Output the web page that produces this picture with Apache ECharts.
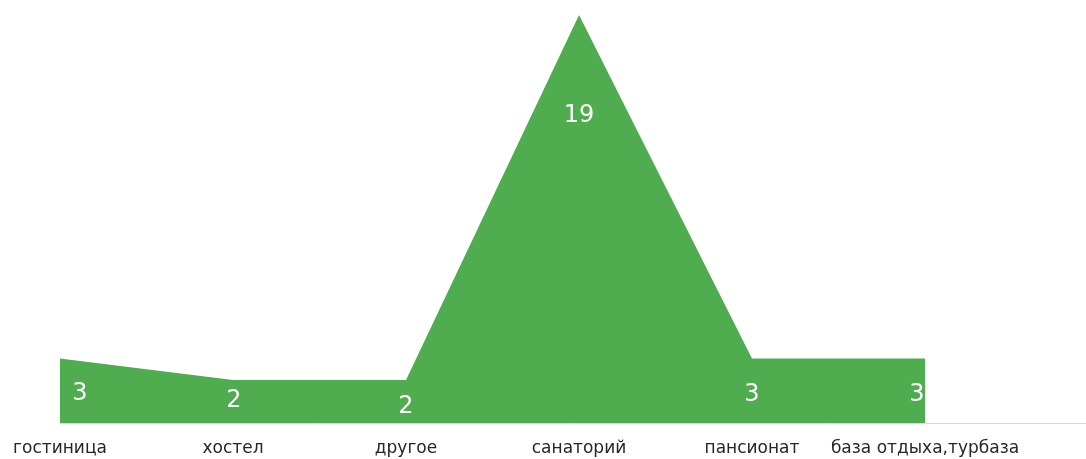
<!DOCTYPE html>
<html>
<head>
<meta charset="utf-8">
<script src="https://cdn.jsdelivr.net/npm/echarts@6/dist/echarts.min.js"></script>
<style>
  html, body { margin: 0; padding: 0; background: #fff; }
  #chart { width: 1086px; height: 459px; }
</style>
</head>
<body>
<div id="chart"></div>
<script>
  // data
  var categories = ['гостиница', 'хостел', 'другое', 'санаторий', 'пансионат', 'база отдыха,турбаза'];
  var counts = [3, 2, 2, 19, 3, 3];

  // where each white value label sits relative to its point
  var labelOffsets = [[20, 35], [1, 21], [0, 27], [0, 101], [0, 36], [-8, 36]];

  var font = "'DejaVu Sans', Verdana, sans-serif";

  var chart = echarts.init(document.getElementById('chart'));
  chart.setOption({
    animation: false,
    grid: {
      left: 60,
      width: 1038,
      top: 15,
      bottom: 36,
      outerBoundsMode: 'none'
    },
    xAxis: {
      type: 'category',
      data: categories.concat(['']),
      boundaryGap: false,
      axisLine: { lineStyle: { color: '#d9d9d9', width: 1 } },
      axisTick: { show: false },
      axisLabel: {
        interval: 0,
        color: '#262626',
        fontFamily: font,
        fontSize: 17,
        margin: 17
      }
    },
    yAxis: {
      type: 'value',
      min: 0,
      max: 19,
      show: false
    },
    series: [{
      type: 'line',
      data: counts.map(function (v, i) {
        return { value: v, label: { offset: labelOffsets[i] } };
      }),
      symbol: 'circle',
      symbolSize: 0,
      lineStyle: { width: 0 },
      itemStyle: { color: '#4fad50' },
      areaStyle: { color: '#4fad50', opacity: 1 },
      label: {
        show: true,
        position: 'inside',
        color: '#fff',
        fontFamily: font,
        fontSize: 24
      }
    }]
  });
</script>
</body>
</html>
